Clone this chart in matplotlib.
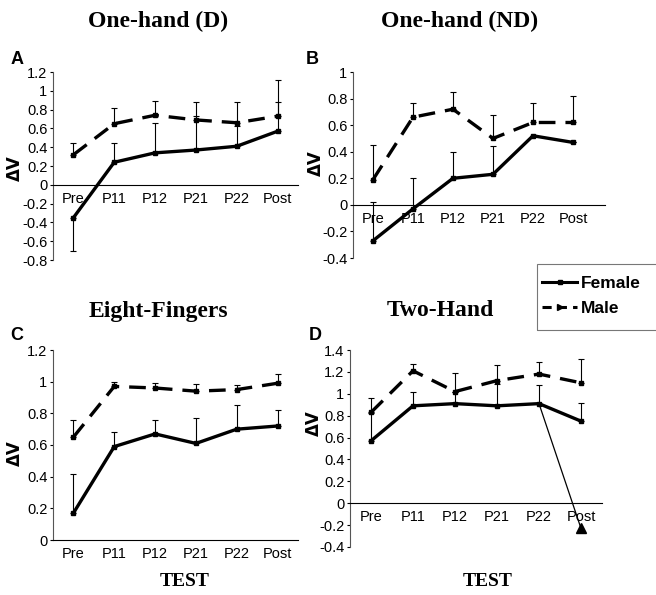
import matplotlib
matplotlib.use("Agg")
import matplotlib.pyplot as plt
from matplotlib.lines import Line2D
from matplotlib.patches import Rectangle
from matplotlib.ticker import FuncFormatter

tests = ["Pre", "P11", "P12", "P21", "P22", "Post"]

# panel A - One-hand (D)
a_female = [-0.35, 0.24, 0.34, 0.37, 0.41, 0.57]
a_female_up = [0.0, 0.21, 0.32, 0.36, 0.22, 0.31]
a_female_down = [0.35, 0.0, 0.0, 0.0, 0.0, 0.0]
a_male = [0.32, 0.65, 0.74, 0.69, 0.66, 0.73]
a_male_up = [0.13, 0.17, 0.15, 0.19, 0.22, 0.39]

# panel B - One-hand (ND)
b_female = [-0.27, -0.03, 0.20, 0.23, 0.52, 0.47]
b_female_up = [0.29, 0.23, 0.20, 0.21, 0.0, 0.0]
b_male = [0.19, 0.66, 0.72, 0.50, 0.62, 0.62]
b_male_up = [0.26, 0.11, 0.13, 0.18, 0.15, 0.20]

# panel C - Eight-Fingers
c_female = [0.17, 0.59, 0.67, 0.61, 0.70, 0.72]
c_female_up = [0.25, 0.09, 0.09, 0.16, 0.15, 0.10]
c_male = [0.65, 0.97, 0.96, 0.94, 0.95, 0.99]
c_male_up = [0.11, 0.03, 0.03, 0.045, 0.03, 0.06]

# panel D - Two-Hand
d_female = [0.57, 0.89, 0.91, 0.89, 0.91, 0.75]
d_female_up = [0.25, 0.13, 0.11, 0.20, 0.17, 0.17]
d_male = [0.83, 1.21, 1.02, 1.12, 1.18, 1.10]
d_male_up = [0.13, 0.06, 0.17, 0.14, 0.11, 0.22]
d_outlier = -0.23  # female post value pulled out of the line

panels = [
    # (rect, data, ylim, xlim, ticks)
    ([53/656, 1-260/595, 245/656, 188/595],
     (a_female, a_female_up, a_female_down, a_male, a_male_up),
     (-0.8, 1.2), (-0.5, 5.5), [-0.8 + 0.2*i for i in range(11)]),
    ([353/656, 1-258/595, 252/656, 186/595],
     (b_female, b_female_up, None, b_male, b_male_up),
     (-0.4, 1.0), (-0.5, 5.8), [-0.4 + 0.2*i for i in range(8)]),
    ([53/656, 1-540/595, 245/656, 190/595],
     (c_female, c_female_up, None, c_male, c_male_up),
     (0, 1.2), (-0.5, 5.5), [0.2*i for i in range(7)]),
    ([350/656, 1-547/595, 252/656, 197/595],
     (d_female, d_female_up, None, d_male, d_male_up),
     (-0.4, 1.4), (-0.5, 5.5), [-0.4 + 0.2*i for i in range(10)]),
]

fig = plt.figure(figsize=(6.56, 5.95), dpi=100)
x = list(range(len(tests)))
axes = []

for rect, (fem, fem_up, fem_down, male, male_up), ylim, xlim, ticks in panels:
    ax = fig.add_axes(rect)
    axes.append(ax)
    if fem_down is None:
        fem_down = [0] * len(fem)
    ax.errorbar(x, fem, yerr=[fem_down, fem_up], fmt="none", ecolor="black",
                elinewidth=0.8, capsize=2, capthick=0.8, zorder=2)
    ax.errorbar(x, male, yerr=[[0]*len(male), male_up], fmt="none", ecolor="black",
                elinewidth=0.8, capsize=2, capthick=0.8, zorder=2)
    ax.plot(x, fem, color="black", lw=2.4, marker="s", ms=2.5, zorder=3)
    ax.plot(x, male, color="black", lw=2.4, ls=(0, (5, 3)), marker="s", ms=2.5, zorder=3)

    ax.set_xlim(*xlim)
    ax.set_ylim(*ylim)
    ax.set_yticks(ticks)
    ax.yaxis.set_major_formatter(FuncFormatter(lambda v, p: "%g" % round(v, 1)))
    ax.set_xticks(x)
    ax.set_xticklabels(tests)
    for s in ["top", "right"]:
        ax.spines[s].set_visible(False)
    ax.spines["bottom"].set_position(("data", 0))
    ax.spines["bottom"].set_linewidth(0.8)
    ax.spines["left"].set_linewidth(0.8)
    ax.spines["left"].set_color("#555555")
    ax.tick_params(axis="x", length=0, pad=5, labelsize=10.5)
    ax.tick_params(axis="y", length=2, pad=2, labelsize=10.5)
    for lbl in ax.get_xticklabels() + ax.get_yticklabels():
        lbl.set_fontfamily("Liberation Sans")
    ax.set_facecolor("none")

# the outlier in panel D
axd = axes[3]
axd.plot([4, 5], [d_female[4], d_outlier], color="black", lw=0.9, zorder=3)
axd.plot([5], [d_outlier], marker="^", color="black", ms=7, clip_on=False, zorder=4)

serif = "Liberation Serif"
sans = "Liberation Sans"
titles = [(158, 21, "One-hand (D)"), (460, 21, "One-hand (ND)"),
          (158, 311, "Eight-Fingers"), (440, 311, "Two-Hand")]
for tx, ty, t in titles:
    fig.text(tx/656, 1-ty/595, t, ha="center", va="center",
             fontsize=17, fontweight="bold", family=serif)
for tx in [185, 488]:
    fig.text(tx/656, 1-582/595, "TEST", ha="center", va="center",
             fontsize=14, fontweight="bold", family=serif)

for lx, ly, letter in [(17, 60, "A"), (312, 60, "B"), (17, 335, "C"), (315, 335, "D")]:
    fig.text(lx/656, 1-ly/595, letter, ha="center", va="center",
             fontsize=13, fontweight="bold", family=sans)

for lx, ly in [(15, 168), (316, 163), (15, 453), (314, 423)]:
    fig.text(lx/656, 1-ly/595, "ΔV", ha="center", va="center", rotation=90,
             fontsize=12, fontweight="bold", family="DejaVu Sans")

# legend box runs past the right edge like the original
fig.patches.append(Rectangle((537/656, 1-330/595), 0.3, 66/595, transform=fig.transFigure,
                             fill=False, edgecolor="#777777", lw=0.8))
handles = [
    Line2D([], [], color="black", lw=2.2, marker="s", ms=3),
    Line2D([], [], color="black", lw=2.2, ls=(0, (3, 2)), marker=">", ms=4),
]
fig.legend(handles, ["Female", "Male"], loc="upper left",
           bbox_to_anchor=(539/656, 1-272/595), frameon=False,
           handlelength=2.0, handletextpad=0.2, borderpad=0.2, borderaxespad=0,
           labelspacing=0.6,
           prop={"family": sans, "weight": "bold", "size": 12.5})

plt.savefig("out.png", dpi=100)
